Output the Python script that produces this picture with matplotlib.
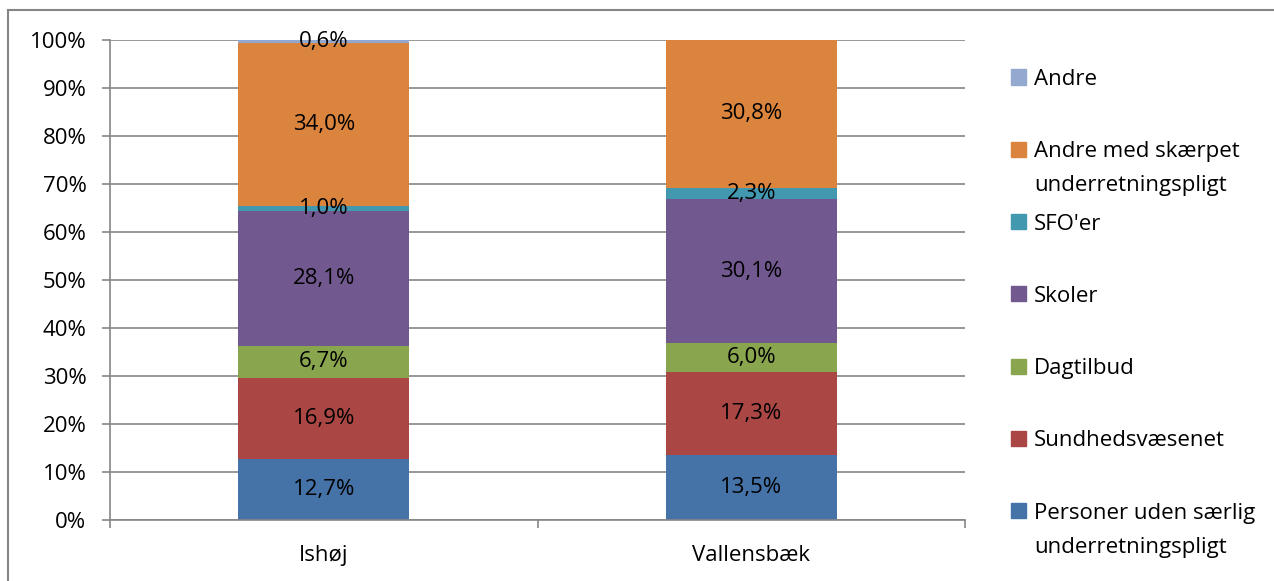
import numpy as np
import matplotlib
matplotlib.use('Agg')
import matplotlib.pyplot as plt
from matplotlib.patches import Rectangle
from matplotlib.lines import Line2D

plt.rcParams['font.family'] = ['Open Sans', 'DejaVu Sans']

# data
kommuner = ['Ishøj', 'Vallensbæk']
serier = ['Personer uden særlig\nunderretningspligt', 'Sundhedsvæsenet', 'Dagtilbud',
          'Skoler', "SFO'er", 'Andre med skærpet\nunderretningspligt', 'Andre']
personer = [12.7, 13.5]
sundhed = [16.9, 17.3]
dagtilbud = [6.7, 6.0]
skoler = [28.1, 30.1]
sfo = [1.0, 2.3]
andre_skaerpet = [34.0, 30.8]
andre = [0.6, 0.0]
farver = ['#4572A7', '#AA4643', '#89A54E', '#71588F', '#4198AF', '#DB843D', '#93A9CF']

vaerdier = [personer, sundhed, dagtilbud, skoler, sfo, andre_skaerpet, andre]

fig = plt.figure(figsize=(12.74, 5.81), dpi=100)
ax = fig.add_axes([110/1274, 1 - 520/581, (965 - 110)/1274, 480/581])

x = np.arange(len(kommuner))
bund = np.zeros(len(kommuner))
fs = 16
for v, farve in zip(vaerdier, farver):
    v = np.array(v)
    ax.bar(x, v, bottom=bund, width=0.4, color=farve, zorder=2)
    for xi, vi, bi in zip(x, v, bund):
        if vi > 0:
            ax.text(xi, bi + vi / 2, f'{vi:.1f}%'.replace('.', ','), ha='center',
                    va='center', fontsize=fs, color='black', zorder=3)
    bund = bund + v

ax.set_xlim(-0.5, 1.5)
ax.set_ylim(0, 100)
ax.set_yticks(np.arange(0, 101, 10))
ax.set_yticklabels([f'{t}%' for t in range(0, 101, 10)], fontsize=fs)
ax.set_xticks(x)
ax.set_xticklabels(kommuner, fontsize=fs)
ax.set_xticks([-0.5, 0.5, 1.5], minor=True)
ax.tick_params(axis='x', which='major', length=0, pad=18)
ax.tick_params(axis='x', which='minor', length=6, width=1.2, color='#868686', direction='out')
ax.tick_params(axis='y', length=6, width=1.2, color='#868686', pad=11)
ax.grid(axis='y', color='#868686', linewidth=1.2, zorder=0)
ax.set_axisbelow(True)
for s in ['top', 'right']:
    ax.spines[s].set_visible(False)
for s in ['left', 'bottom']:
    ax.spines[s].set_color('#868686')
    ax.spines[s].set_linewidth(1.2)

# legend (reversed order, handle next to first line)
for i, (navn, farve) in enumerate(zip(serier[::-1], farver[::-1])):
    yc = 1 - (77 + i * 72.3) / 581
    fig.patches.append(Rectangle((1011/1274, yc - 7.5/581), 15/1274, 15/581,
                                 transform=fig.transFigure, color=farve))
    for j, linje in enumerate(navn.split('\n')):
        fig.text(1034/1274, yc - j * 34/581, linje, fontsize=fs,
                 va='center_baseline', ha='left')

# outer frame
fig.add_artist(Line2D([8/1274, 8/1274], [0, 1 - 10/581], color='#868686', lw=1.5))
fig.add_artist(Line2D([8/1274, 1], [1 - 10/581, 1 - 10/581], color='#868686', lw=1.5))

fig.savefig('out.png', dpi=100)
